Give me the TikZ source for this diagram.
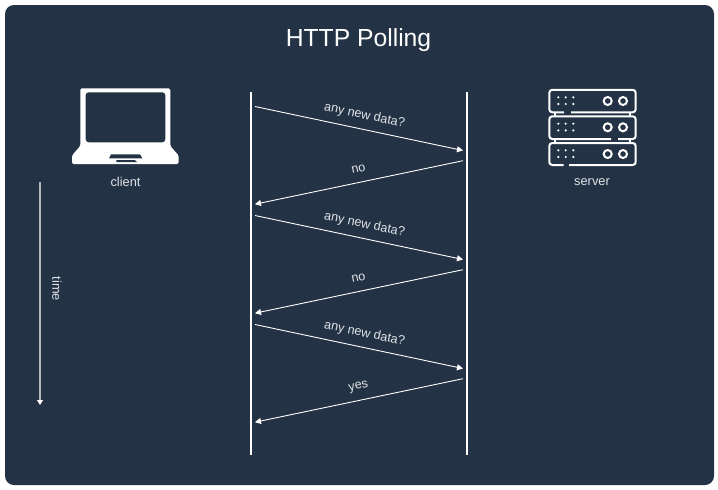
\documentclass[tikz,border=0pt]{standalone}
\usepackage{fontspec}
\setmainfont{Liberation Sans}
\usetikzlibrary{arrows.meta}
\definecolor{panel}{HTML}{243245}
\definecolor{labeltext}{HTML}{E0E3E8}
\tikzset{
  lifeline/.style={draw=white,line width=2pt},
  msg/.style={draw=white,line width=0.9pt,-{Triangle[length=6pt,width=6pt]}},
  timeline/.style={draw=white!65!panel,line width=1.2pt,-{Triangle[length=5pt,width=6pt,color=white]}},
  msglabel/.style={text=labeltext,font=\fontsize{12.6}{15}\selectfont,inner sep=0pt},
  iconlabel/.style={text=labeltext,font=\fontsize{12.8}{15}\selectfont,inner sep=0pt},
  titlelabel/.style={text=white,font=\fontsize{24.7}{30}\selectfont,inner sep=0pt},
  rack/.style={draw=white,line width=2pt,rounded corners=3pt},
  led/.style={fill=white,draw=none},
  knob/.style={draw=white,line width=2pt,fill=panel},
}
\begin{document}
\begin{tikzpicture}[x=1pt,y=-1pt]
\useasboundingbox (0,0) rectangle (718,490);
\fill[white] (0,0) rectangle (718,490);
\fill[panel,rounded corners=9pt] (5,5) rectangle (714,485);
\node[titlelabel] (title) at (358.5,40) {HTTP Polling};

% laptop
\fill[white,rounded corners=1.5pt] (80.3,88.3) -- (170.3,88.3) -- (170.3,146) -- (178.7,155.5) -- (178.7,164) -- (72,164) -- (72,155.5) -- (80.3,146) -- cycle;
\fill[panel,rounded corners=3pt] (85.7,92.3) rectangle (165.3,142.3);
\fill[panel] (111,154.3) -- (140,154.3) -- (142.3,158.3) -- (109,158.3) -- cycle;
\fill[panel] (116.3,160) -- (134.7,160) -- (137.3,162.2) -- (116.3,162.2) -- cycle;
\node[iconlabel] (client) at (125.5,182) {client};

% server
\draw[rack] (564,112.3) -- (549.3,112.3) -- (549.3,89.8) -- (635.7,89.8) -- (635.7,112.3) -- (571,112.3);
\draw[rack] (611,139) -- (549.3,139) -- (549.3,116.3) -- (635.7,116.3) -- (635.7,139) -- (618,139);
\draw[rack] (563.5,165) -- (549.3,165) -- (549.3,143) -- (635.7,143) -- (635.7,165) -- (569,165);
\draw[white,line width=2pt] (554.5,112.3) -- (554.5,116.3) (630,112.3) -- (630,116.3) (554.5,139) -- (554.5,143) (630,139) -- (630,143);
\foreach \y in {97.3,104,123.7,130.4,150.3,157}{
  \foreach \x in {558.3,565.7,573.3}{
    \fill[led] (\x,\y) circle (1.2pt);
  }
}
\foreach \y in {101,127.3,154}{
  \draw[knob] (607.7,\y) circle (4pt);
  \draw[knob] (623,\y) circle (4pt);
}
\node[iconlabel] (server) at (592,182) {server};

% lifelines
\coordinate (c0) at (251,92);
\coordinate (c1) at (251,455);
\coordinate (s0) at (467,92);
\coordinate (s1) at (467,455);
\draw[lifeline] (c0) -- (c1);
\draw[lifeline] (s0) -- (s1);

% time
\coordinate (t0) at (40,182);
\coordinate (t1) at (40,405);
\draw[timeline] (t0) -- (t1);
\node[iconlabel,rotate=-90] (time) at (57,289) {time};

% messages
\foreach \i/\d in {0/0,1/109,2/218}{
  \coordinate (a\i) at (255,106.5+\d);
  \coordinate (b\i) at (463,150.5+\d);
  \coordinate (d\i) at (463,160.7+\d);
  \coordinate (e\i) at (255,204.2+\d);
  \draw[msg] (a\i) -- (b\i);
  \draw[msg] (d\i) -- (e\i);
  \node[msglabel,rotate=-12] (q\i) at (364.5,115.5+\d) {any new data?};
}
\node[msglabel,rotate=12] (r0) at (358.5,169) {no};
\node[msglabel,rotate=12] (r1) at (358.5,278) {no};
\node[msglabel,rotate=12] (r2) at (358.5,387) {yes};
\end{tikzpicture}
\end{document}
